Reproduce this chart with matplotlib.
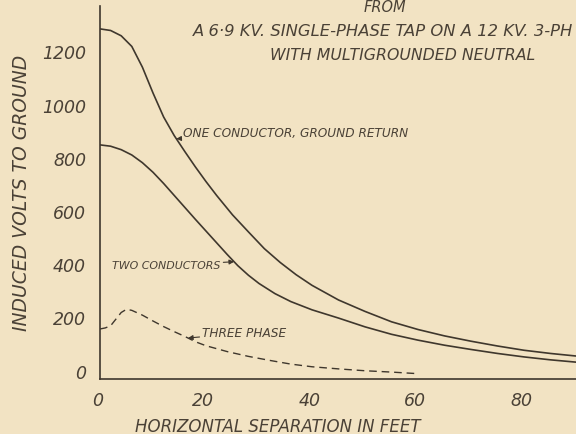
import numpy as np
import matplotlib
matplotlib.use("Agg")
import matplotlib.pyplot as plt
import matplotlib.transforms as mtransforms

# ---- data ----
x_one = [0, 2, 4, 6, 8, 10, 12, 14, 16, 18, 20, 22, 25, 28, 31, 34, 37, 40, 45, 50, 55, 60, 65, 70, 75, 80, 85, 90]
v_one = [1316, 1310, 1290, 1250, 1172, 1075, 985, 915, 855, 797, 742, 690, 617, 553, 490, 438, 392, 352, 297, 254, 215, 186, 162, 142, 124, 108, 96, 86]

x_two = [0, 2, 4, 6, 8, 10, 12, 14, 16, 18, 20, 22, 24, 26, 28, 30, 33, 36, 40, 45, 50, 55, 60, 65, 70, 75, 80, 85, 90]
v_two = [880, 875, 862, 842, 813, 777, 735, 690, 645, 600, 556, 512, 468, 426, 390, 359, 321, 291, 260, 229, 196, 168, 146, 127, 111, 96, 83, 72, 63]

x_three = [0, 1, 2, 3, 4, 5, 6, 8, 10, 12, 14, 16, 18, 20, 24, 28, 32, 36, 40, 45, 50, 55, 60]
v_three = [188, 192, 200, 225, 250, 262, 258, 240, 218, 197, 178, 160, 140, 125, 103, 85, 70, 56, 46, 38, 31, 26, 20]

x_ticks = [0, 20, 40, 60, 80]
y_ticks = [0, 200, 400, 600, 800, 1000, 1200]

BG = "#f2e3c3"
INK = "#3f372d"
TXT = "#4a4136"

plt.rcParams['font.family'] = ['DejaVu Sans']

fig = plt.figure(figsize=(5.76, 4.35), dpi=100, facecolor=BG)
ax = fig.add_axes([100/576, 55/435, 476/576, 373/435], facecolor=BG)

ax.plot(x_one, v_one, color=INK, lw=1.2)
ax.plot(x_two, v_two, color=INK, lw=1.2)
ax.plot(x_three, v_three, color=INK, lw=1.0, ls=(0, (5.5, 3.5)))

ax.set_xlim(0, 89.8)
ax.set_ylim(0, 1402)

for s in ['top', 'right']:
    ax.spines[s].set_visible(False)
for s in ['left', 'bottom']:
    ax.spines[s].set_color(INK)
    ax.spines[s].set_linewidth(1.2)

ax.set_xticks(x_ticks)
ax.set_yticks(y_ticks)
ax.set_xticklabels([str(t) for t in x_ticks], fontsize=12.5, style='italic', color=TXT)
ax.set_yticklabels([str(t) for t in y_ticks], fontsize=12.5, style='italic', color=TXT)
ax.tick_params(axis='both', length=0)
ax.tick_params(axis='y', pad=10)
ax.tick_params(axis='x', pad=9)

# hand-lettered labels sit slightly off their gridlines
for lab in ax.get_yticklabels():
    lab.set_transform(lab.get_transform() + mtransforms.ScaledTranslation(0, 6/72, fig.dpi_scale_trans))
for lab in ax.get_xticklabels():
    lab.set_transform(lab.get_transform() + mtransforms.ScaledTranslation(-2/72, 0, fig.dpi_scale_trans))

# axis titles
fig.text(22/576, 1 - 193/435, "INDUCED VOLTS TO GROUND", rotation=90, ha='center', va='center',
         fontsize=13.5, style='italic', color=TXT)
fig.text(278/576, 1 - 427/435, "HORIZONTAL SEPARATION IN FEET", ha='center', va='center',
         fontsize=12, style='italic', color=TXT)

# heading
fig.text(385/576, 1 - 8/435, "FROM", ha='center', va='center', fontsize=10.5, style='italic', color=TXT)
fig.text(193/576, 1 - 31/435, "A 6·9 KV. SINGLE-PHASE TAP ON A 12 KV. 3-PH", ha='left', va='center',
         fontsize=11.8, style='italic', color=TXT)
fig.text(403/576, 1 - 56/435, "WITH MULTIGROUNDED NEUTRAL", ha='center', va='center',
         fontsize=11.3, style='italic', color=TXT)

# curve annotations
arrow = dict(arrowstyle='-|>', color=INK, lw=0.8, mutation_scale=7, shrinkA=0, shrinkB=0)
ax.annotate("ONE CONDUCTOR, GROUND RETURN", xy=(14.4, np.interp(14.4, x_one, v_one)),
            xytext=(15.6, 925), fontsize=8.7, style='italic', color=TXT,
            ha='left', va='center', arrowprops=arrow)
ax.annotate("TWO CONDUCTORS", xy=(25.3, np.interp(25.3, x_two, v_two)),
            xytext=(2.3, 427), fontsize=7.9, style='italic', color=TXT,
            ha='left', va='center', arrowprops=arrow)
ax.annotate("THREE PHASE", xy=(16.6, np.interp(16.6, x_three, v_three)),
            xytext=(19.3, 173), fontsize=8.7, style='italic', color=TXT,
            ha='left', va='center', arrowprops=arrow)

fig.savefig("out.png", dpi=100, facecolor=BG)
